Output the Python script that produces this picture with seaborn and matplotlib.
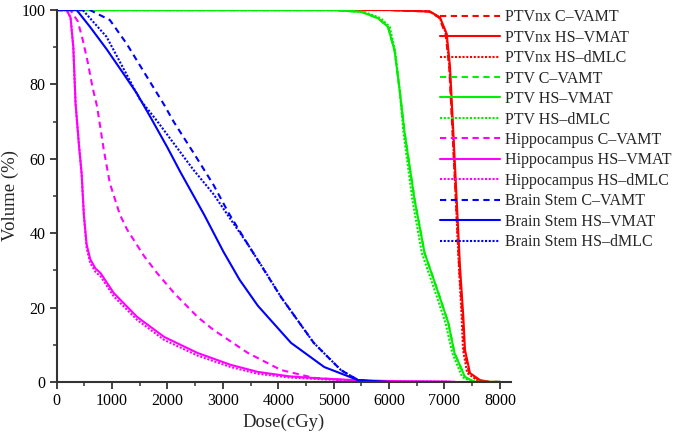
import matplotlib
matplotlib.use("Agg")
import matplotlib.pyplot as plt
import seaborn as sns
from matplotlib.ticker import MultipleLocator

# DVH data: dose in cGy, volume in %
ptvnx_c_dose = [0, 6000, 6720, 6900, 7020, 7085, 7145, 7205, 7265, 7325, 7355, 7445, 7620, 7800, 8000]
ptvnx_c_vol = [100, 100, 99.6, 98, 93.6, 84.7, 67, 49, 31, 17.5, 8.6, 2.4, 0.5, 0, 0]
ptvnx_hv_dose = [0, 6000, 6740, 6920, 7040, 7100, 7160, 7220, 7280, 7340, 7370, 7460, 7640, 7820, 8000]
ptvnx_hv_vol = [100, 100, 99.6, 98, 93.6, 84.7, 67, 49, 31, 17.5, 8.6, 2.4, 0.5, 0, 0]
ptvnx_hd_dose = [0, 6000, 6730, 6910, 7030, 7090, 7150, 7205, 7260, 7310, 7335, 7410, 7580, 7760, 8000]
ptvnx_hd_vol = [100, 100, 99.6, 98, 93.6, 84.7, 67, 49, 31, 17.5, 8.6, 2.4, 0.5, 0, 0]

ptv_c_dose = [0, 5000, 5500, 5800, 5980, 6100, 6190, 6280, 6460, 6640, 6890, 7070, 7180, 7370, 7550, 8000]
ptv_c_vol = [100, 100, 99.5, 97.8, 95.5, 89, 78.5, 67, 49, 34.7, 23.9, 15.8, 7.8, 1.3, 0, 0]
ptv_hv_dose = [0, 5000, 5500, 5800, 5980, 6100, 6190, 6280, 6460, 6640, 6890, 7070, 7180, 7370, 7550, 8000]
ptv_hv_vol = [100, 100, 99.5, 97.8, 95.5, 89, 78.5, 67, 49, 34.7, 23.9, 15.8, 7.8, 1.3, 0, 0]
ptv_hd_dose = [0, 5000, 5550, 5850, 6010, 6110, 6190, 6260, 6420, 6590, 6840, 7020, 7140, 7320, 7500, 8000]
ptv_hd_vol = [100, 100, 99.5, 97.8, 95.5, 89, 78.5, 67, 49, 34.7, 23.9, 15.8, 7.8, 1.3, 0, 0]

hip_c_dose = [0, 250, 290, 380, 470, 560, 650, 730, 850, 960, 1140, 1270, 1570, 1810, 2120, 2540, 2830, 3020, 3450, 4050, 4640, 5500, 6000]
hip_c_vol = [100, 100, 99, 97, 92, 86, 79, 74, 62.4, 53.4, 45, 41, 34, 29.3, 23.9, 17.5, 14, 12.1, 7.8, 3.2, 1.1, 0.2, 0]
hip_hv_dose = [0, 180, 250, 300, 340, 400, 450, 490, 540, 605, 700, 790, 1030, 1450, 1940, 2540, 3140, 3630, 4200, 4800, 5500, 6200, 7000, 7200]
hip_hv_vol = [100, 100, 98, 90, 75, 64, 56, 45, 37, 33, 30.5, 29.3, 23.9, 17.5, 12.1, 7.8, 4.6, 2.7, 1.5, 0.9, 0.4, 0.2, 0.1, 0]
hip_hd_dose = [0, 180, 250, 300, 340, 400, 450, 490, 540, 605, 700, 790, 1030, 1450, 1940, 2540, 3140, 3630, 4200, 4800, 5500, 6200, 7000, 7200]
hip_hd_vol = [100, 100, 98, 90, 75, 64, 56, 45, 36, 32, 29.6, 28.4, 23, 16.7, 11.3, 7.1, 4.0, 2.2, 1.2, 0.7, 0.3, 0.2, 0.1, 0]

bs_c_dose = [0, 600, 960, 1260, 1630, 1940, 2110, 2470, 2830, 3100, 3450, 4050, 4640, 5130, 5440, 5800]
bs_c_vol = [100, 100, 97.3, 91, 82, 74.5, 70, 61.6, 53, 45.5, 37, 22.8, 10.5, 3.2, 0.5, 0]
bs_hv_dose = [0, 360, 600, 900, 1200, 1450, 1700, 2000, 2230, 2660, 3010, 3300, 3630, 4230, 4830, 5440, 6000]
bs_hv_vol = [100, 100, 95.5, 89.5, 83, 77.5, 71, 63, 56.5, 45, 35, 27.5, 20.5, 10.5, 4, 0.5, 0]
bs_hd_dose = [0, 470, 900, 1500, 1810, 2120, 2470, 2830, 3150, 3450, 3750, 4050, 4640, 5130, 5440, 5800]
bs_hd_vol = [100, 100, 92.8, 76, 70.2, 64, 57, 50.5, 43.5, 37, 30, 22.8, 10.5, 3.2, 0.5, 0]

series = [
    ("PTVnx C–VAMT", ptvnx_c_dose, ptvnx_c_vol, "#ff0000", "dash"),
    ("PTVnx HS–VMAT", ptvnx_hv_dose, ptvnx_hv_vol, "#ff0000", "solid"),
    ("PTVnx HS–dMLC", ptvnx_hd_dose, ptvnx_hd_vol, "#ff0000", "dot"),
    ("PTV C–VAMT", ptv_c_dose, ptv_c_vol, "#00ee00", "dash"),
    ("PTV HS–VMAT", ptv_hv_dose, ptv_hv_vol, "#00ee00", "solid"),
    ("PTV HS–dMLC", ptv_hd_dose, ptv_hd_vol, "#00ee00", "dot"),
    ("Hippocampus C–VAMT", hip_c_dose, hip_c_vol, "#ff00ff", "dash"),
    ("Hippocampus HS–VMAT", hip_hv_dose, hip_hv_vol, "#ff00ff", "solid"),
    ("Hippocampus HS–dMLC", hip_hd_dose, hip_hd_vol, "#ff00ff", "dot"),
    ("Brain Stem C–VAMT", bs_c_dose, bs_c_vol, "#0000ff", "dash"),
    ("Brain Stem HS–VMAT", bs_hv_dose, bs_hv_vol, "#0000ff", "solid"),
    ("Brain Stem HS–dMLC", bs_hd_dose, bs_hd_vol, "#0000ff", "dot"),
]
styles = {"dash": (0, (3, 2.2)), "solid": "-", "dot": (0, (1, 0.8))}

sns.set_style("ticks")
plt.rcParams["font.family"] = ["Liberation Serif", "DejaVu Serif"]

fig = plt.figure(figsize=(6.75, 4.36), dpi=100)
ax = fig.add_axes([0.084, 0.124, 0.673, 0.853])

for label, dose, vol, color, ls in series:
    sns.lineplot(x=dose, y=vol, ax=ax, color=color, linestyle=styles[ls],
                 linewidth=1.5, label=label)

ax.set_xlim(0, 8200)
ax.set_ylim(0, 100)
ax.xaxis.set_major_locator(MultipleLocator(1000))
ax.xaxis.set_minor_locator(MultipleLocator(500))
ax.yaxis.set_major_locator(MultipleLocator(20))
ax.yaxis.set_minor_locator(MultipleLocator(10))
ax.tick_params(which="major", direction="out", length=5, width=1.3, labelsize=11.5,
               pad=3, colors="#333333", labelcolor="black")
ax.tick_params(which="minor", direction="out", length=3, width=1.1, colors="#333333")
for s in ["top", "right"]:
    ax.spines[s].set_visible(False)
for s in ["left", "bottom"]:
    ax.spines[s].set_linewidth(1.5)
    ax.spines[s].set_color("#333333")

ax.set_xlabel("Dose(cGy)", fontsize=13.5, labelpad=3)
ax.set_ylabel("Volume (%)", fontsize=13.5)
ax.yaxis.set_label_coords(-0.083, 0.5)

ax.legend(loc="upper left", bbox_to_anchor=(0.652, 0.979), bbox_transform=fig.transFigure,
          frameon=False, fontsize=11.5, handlelength=3.75, handletextpad=0.3,
          labelspacing=0.28, borderpad=0, borderaxespad=0)

fig.savefig("out.png", dpi=100)
